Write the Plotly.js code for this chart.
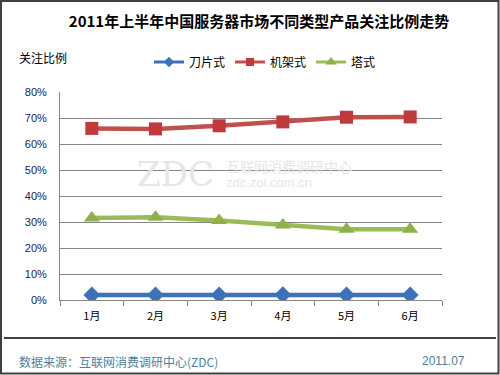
<!DOCTYPE html>
<html>
<head>
<meta charset="utf-8">
<script src="https://cdn.plot.ly/plotly-3.0.1.min.js"></script>
<style>
html,body{margin:0;padding:0;background:#fff;}
#chart{width:500px;height:375px;}
</style>
</head>
<body>
<div id="chart"></div>
<script>
const months = ["1月","2月","3月","4月","5月","6月"];
const blade = [1.9, 1.9, 1.9, 2.0, 1.9, 1.9];
const rack = [66.0, 65.8, 67.0, 68.5, 70.3, 70.4];
const tower = [31.5, 31.8, 30.6, 28.8, 27.2, 27.2];
const seriesNames = ["刀片式","机架式","塔式"];
const yTicks = [0,10,20,30,40,50,60,70,80];
const yTickText = yTicks.map(v => v + "%");

const CJK = '"Noto Sans CJK SC", "Liberation Sans", Arial, sans-serif';
const LAT = '"Liberation Sans", Arial, "Noto Sans CJK SC", sans-serif';

const L=60, R=58, T=92, B=75, W=500, H=375;
const PW = W-L-R, PH = H-T-B;
const px = x => (x-L)/PW;
const py = y => (H-B-y)/PH;

const colors = ['#3d72b8','#c0504d','#9bbb59'];
const mcolors = ['#3d72b8','#c0393b','#8fb04a'];
const symbols = ['diamond','square','triangle-up'];
const data = [blade, rack, tower];

const traces = [];
data.forEach((vals, i) => {
  traces.push({x: months, y: vals, name: seriesNames[i], type:'scatter', mode:'lines+markers', showlegend:false,
    line:{color:colors[i], width:4.5}, marker:{symbol:symbols[i], size: i===2?14:13, color:mcolors[i]}});
});
// legend entries (smaller symbols, no data drawn)
data.forEach((vals, i) => {
  traces.push({x: [months[0]], y: [null], name: seriesNames[i], type:'scatter', mode:'lines+markers', showlegend:true,
    line:{color:colors[i], width:3}, marker:{symbol:symbols[i], size: i===2?10:8, color:mcolors[i]}});
});

const layout = {
  width: W, height: H,
  margin:{l:L, r:R, t:T, b:B, pad:0},
  paper_bgcolor:'#fff', plot_bgcolor:'#fff',
  showlegend:true,
  legend:{orientation:'h', xref:'container', yref:'container', x:0.298, y:1-(62/375), xanchor:'left', yanchor:'middle',
    font:{family:CJK, size:12, color:'#000'}, itemwidth:30, traceorder:'normal', bgcolor:'rgba(0,0,0,0)'},
  title:{text:'2011年上半年中国服务器市场不同类型产品关注比例走势', font:{family:CJK, size:15, color:'#000', weight:'bold'},
    xref:'paper', x:px(259), xanchor:'center', y:1-(21.5/375), yanchor:'middle'},
  xaxis:{type:'category', range:[-0.5,5.5], showgrid:false, showline:true, linecolor:'#868686', linewidth:1,
    ticks:'outside', tickson:'boundaries', ticklen:5, tickcolor:'#868686',
    tickfont:{family:CJK, size:11, color:'#000'}, ticklabelstandoff:6, zeroline:false, fixedrange:true},
  yaxis:{range:[0,80], tickvals:yTicks, ticktext:yTickText, showgrid:true, gridcolor:'#868686', gridwidth:1,
    showline:true, linecolor:'#868686', linewidth:1, ticks:'', zeroline:false,
    tickfont:{family:LAT, size:11, color:'#1a1a50'}, ticklabelstandoff:10, fixedrange:true},
  shapes:[
    {type:'line', xref:'paper', yref:'paper', x0:px(4), x1:px(496), y0:py(338), y1:py(338), line:{color:'#000', width:1.5}},
    {type:'rect', xref:'paper', yref:'paper', x0:px(1), x1:px(498.5), y0:py(1), y1:py(373.5), line:{color:'#404040', width:2}}
  ],
  annotations:[
    {text:'关注比例', xref:'paper', yref:'paper', x:px(17), y:py(57.5), xanchor:'left', yanchor:'middle', showarrow:false,
     font:{family:CJK, size:12, color:'#000'}},
    {text:'数据来源：互联网消费调研中心(ZDC)', xref:'paper', yref:'paper', x:px(17), y:py(361), xanchor:'left', yanchor:'middle', showarrow:false,
     font:{family:CJK, size:12, color:'#4d7f99'}},
    {text:'2011.07', xref:'paper', yref:'paper', x:px(467), y:py(361), xanchor:'right', yanchor:'middle', showarrow:false,
     font:{family:LAT, size:12, color:'#4d7f99'}},
    {text:'ZDC', xref:'paper', yref:'paper', x:px(135), y:py(174), xanchor:'left', yanchor:'middle', showarrow:false,
     font:{family:'"DejaVu Serif", serif', size:34, color:'#e6e6e6'}},
    {text:'互联网消费调研中心', xref:'paper', yref:'paper', x:px(224), y:py(166), xanchor:'left', yanchor:'middle', showarrow:false,
     font:{family:CJK, size:14, color:'#e6e6e6'}},
    {text:'zdc.zol.com.cn', xref:'paper', yref:'paper', x:px(224), y:py(182), xanchor:'left', yanchor:'middle', showarrow:false,
     font:{family:LAT, size:13, color:'#e6e6e6'}}
  ]
};

Plotly.newPlot('chart', traces, layout, {staticPlot:true, displayModeBar:false});
</script>
</body>
</html>
